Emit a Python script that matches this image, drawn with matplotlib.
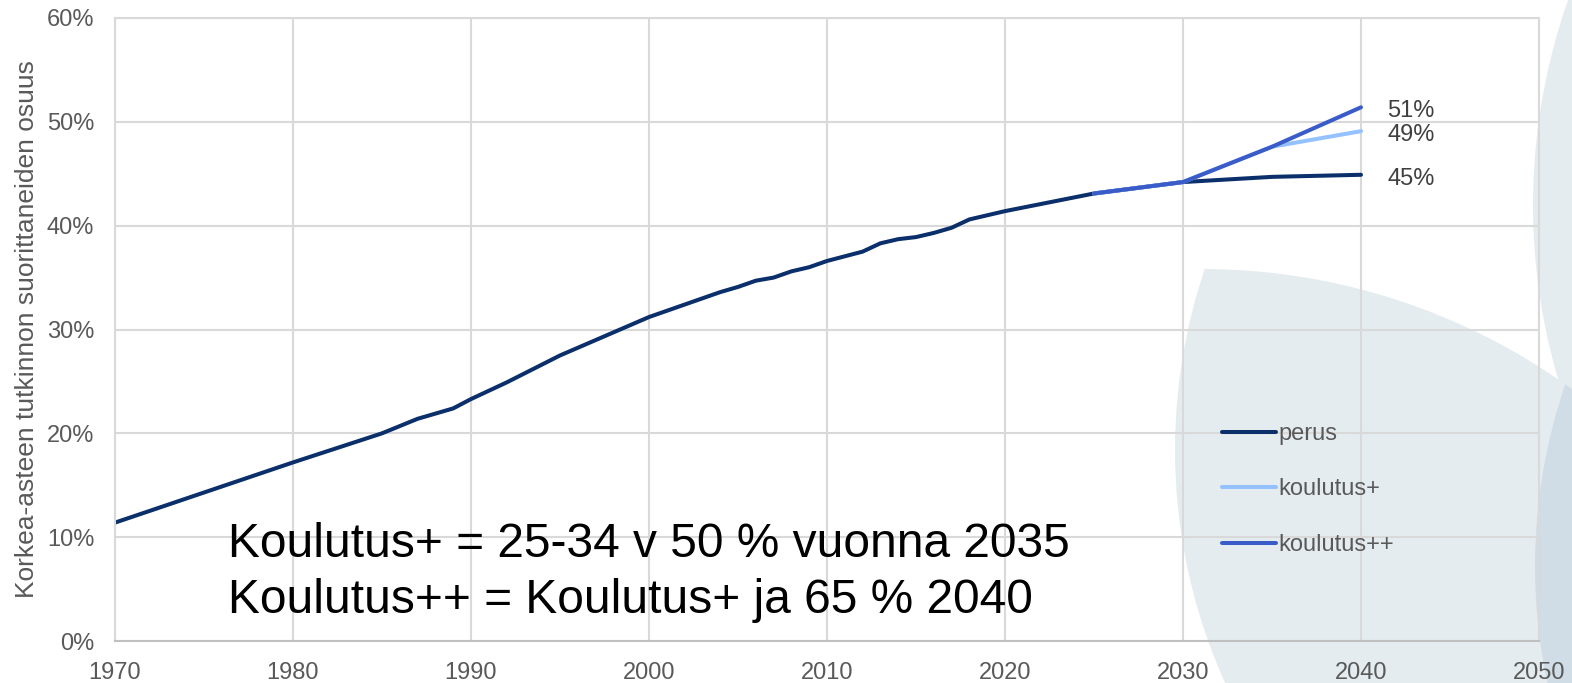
import matplotlib
matplotlib.use("Agg")
import matplotlib.pyplot as plt
from matplotlib.patches import Circle

plt.rcParams['font.family'] = ['Liberation Sans', 'DejaVu Sans']

# ---- data ----
perus_years = [1970, 1975, 1980, 1985, 1987, 1989, 1990, 1992, 1995, 2000, 2004, 2005,
               2006, 2007, 2008, 2009, 2010, 2012, 2013, 2014, 2015, 2016, 2017, 2018,
               2020, 2025, 2030, 2035, 2040]
perus_vals = [11.4, 14.3, 17.2, 20.0, 21.4, 22.4, 23.3, 24.9, 27.5, 31.2, 33.6, 34.1,
              34.7, 35.0, 35.6, 36.0, 36.6, 37.5, 38.3, 38.7, 38.9, 39.3, 39.8, 40.6,
              41.4, 43.1, 44.2, 44.7, 44.9]
scen_years = [2025, 2030, 2035, 2040]
koulutus1_vals = [43.1, 44.2, 47.6, 49.1]
koulutus2_vals = [43.1, 44.2, 47.6, 51.4]
end_labels = ["51%", "49%", "45%"]
end_values = [51.4, 49.1, 44.9]
x_ticks = [1970, 1980, 1990, 2000, 2010, 2020, 2030, 2040, 2050]
y_ticks = [0, 10, 20, 30, 40, 50, 60]

c_perus = '#0b2f6b'
c_k1 = '#94c1ff'
c_k2 = '#3a5cc9'
grid_c = '#d9d9d9'
txt_c = '#595959'

W, H = 1572, 683
fig = plt.figure(figsize=(W / 100, H / 100), dpi=100)
fig.patch.set_facecolor('white')

# decorative background shapes (pixel coordinates)
bg = fig.add_axes([0, 0, 1, 1], zorder=0)
bg.set_xlim(0, W)
bg.set_ylim(H, 0)
bg.axis('off')
light = '#e5ecf0'
dark = '#d0dde6'
clipB = Circle((1202, 899), 630, transform=bg.transData)
pA = Circle((1742, 450), 567, fc=light, ec='none')
bg.add_patch(pA)
pA.set_clip_path(clipB)
pC = Circle((2151, 205), 618, fc=light, ec='none')
bg.add_patch(pC)
clipB2 = Circle((1202, 899), 630, transform=bg.transData)
pD = Circle((2096, 566), 561, fc=dark, ec='none')
bg.add_patch(pD)
pD.set_clip_path(clipB2)

# main axes
ax = fig.add_axes([115 / W, (H - 641) / H, 1424 / W, 623 / H], zorder=1)
ax.set_facecolor('none')
ax.set_xlim(1970, 2050)
ax.set_ylim(0, 60)
ax.set_xticks(x_ticks)
ax.set_yticks(y_ticks)
ax.set_yticklabels([f"{v}%" for v in y_ticks])
ax.tick_params(axis='both', length=0, labelsize=17, colors=txt_c)
ax.tick_params(axis='y', pad=15)
ax.tick_params(axis='x', pad=15)
ax.grid(True, color=grid_c, lw=1.5)
ax.set_axisbelow(True)
for s in ax.spines.values():
    s.set_color(grid_c)
    s.set_linewidth(1.5)
ax.spines['bottom'].set_color('#bfbfbf')

ax.plot(perus_years, perus_vals, color=c_perus, lw=2.9, label='perus', solid_capstyle='round')
ax.plot(scen_years, koulutus1_vals, color=c_k1, lw=2.9, label='koulutus+', solid_capstyle='round')
ax.plot(scen_years, koulutus2_vals, color=c_k2, lw=2.9, label='koulutus++', solid_capstyle='round')

for lab, v in zip(end_labels, end_values):
    ax.annotate(lab, xy=(2040, v), xytext=(26, -4), textcoords='offset pixels',
                ha='left', va='center', fontsize=17, color='#404040')

ax.set_ylabel('Korkea-asteen tutkinnon suorittaneiden osuus', fontsize=19, color=txt_c)
ax.yaxis.set_label_coords(-0.0534, 0.5)

ax.text(0.0794, 0.1348, 'Koulutus+ = 25-34 v 50 % vuonna 2035', transform=ax.transAxes,
        fontsize=34.5, color='black', ha='left', va='baseline')
ax.text(0.0794, 0.0449, 'Koulutus++ = Koulutus+ ja 65 % 2040', transform=ax.transAxes,
        fontsize=34.5, color='black', ha='left', va='baseline')

leg = ax.legend(loc='upper left', bbox_to_anchor=(0.7774, 0.350), frameon=False,
                fontsize=17, handlelength=2.29, handletextpad=0.1, labelspacing=1.42,
                borderpad=0, borderaxespad=0)
for t in leg.get_texts():
    t.set_color(txt_c)

fig.savefig('out.png', dpi=100, facecolor='white')
